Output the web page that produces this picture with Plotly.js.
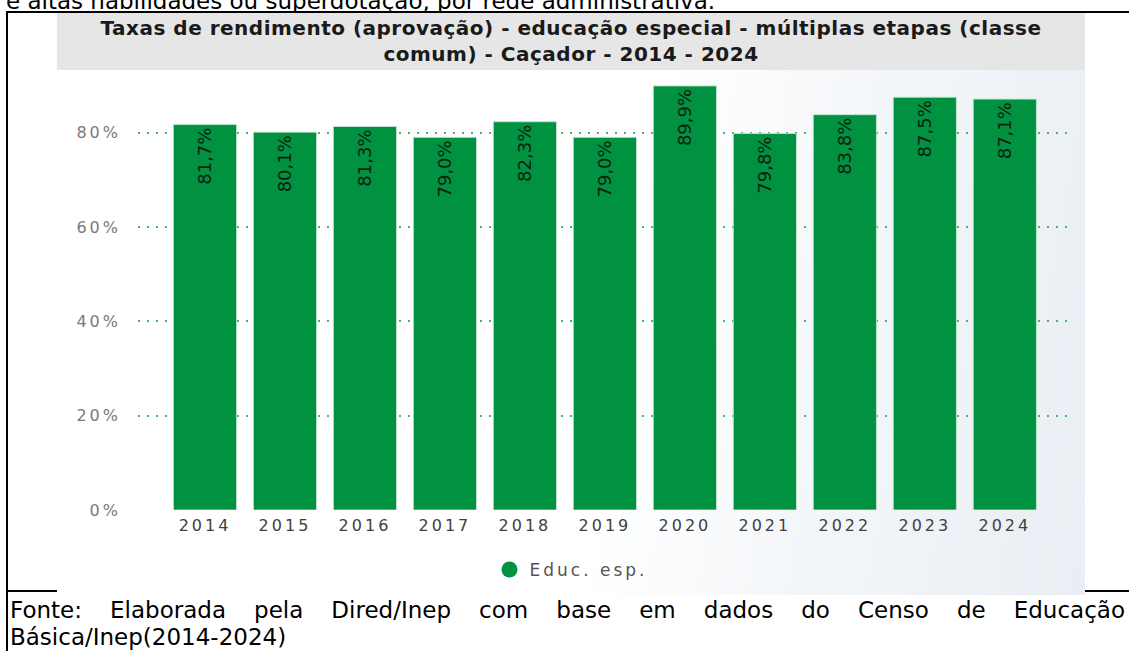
<!DOCTYPE html>
<html>
<head>
<meta charset="utf-8">
<script src="https://cdn.plot.ly/plotly-3.0.1.min.js"></script>
<style>
  html, body { margin: 0; padding: 0; background: #ffffff; width: 1129px; height: 651px; overflow: hidden; position: relative; font-family: "DejaVu Sans", sans-serif; }
  .doc { position: absolute; color: #000; font-size: 23px; line-height: 26px; white-space: nowrap; }
  .line-h { position: absolute; background: #000; height: 2px; }
  .line-v { position: absolute; background: #000; width: 2px; }
  #frame { position: absolute; left: 57px; top: 13px; width: 1028px; height: 582px;
           background: linear-gradient(100deg, #ffffff 0%, #ffffff 55%, #f3f6f9 75%, #e9eef4 100%); }
  #band { position: absolute; left: 0; top: 0; width: 1028px; height: 57px; background: #e6e6e6; }
  #chart { position: absolute; left: 0; top: 0; width: 1028px; height: 582px; }
  .xtick text, .ytick text { letter-spacing: 3px; }
  .legendtext { letter-spacing: 3px; }
  .gtitle { letter-spacing: 0.5px; }
</style>
</head>
<body>
<div class="doc" style="left:6px; top:-12px;">e altas habilidades ou superdotação, por rede administrativa.</div>
<div class="line-h" style="left:6px; top:11px; width:1123px;"></div>
<div class="line-v" style="left:6px; top:11px; height:640px;"></div>
<div class="line-h" style="left:6px; top:590px; width:1123px;"></div>
<div id="frame">
  <div id="band"></div>
  <div id="chart"></div>
</div>
<div class="doc" style="left:10px; top:597px; width:1115px; text-align:justify; text-align-last:justify; white-space:normal;">Fonte: Elaborada pela Dired/Inep com base em dados do Censo de Educação</div>
<div class="doc" style="left:10px; top:624px;">Básica/Inep(2014-2024)</div>
<script>
const chartTitle = 'Taxas de rendimento (aprovação) - educação especial - múltiplas etapas (classe<br>comum) - Caçador - 2014 - 2024';
const years = ['2014', '2015', '2016', '2017', '2018', '2019', '2020', '2021', '2022', '2023', '2024'];
const values = [81.7, 80.1, 81.3, 79.0, 82.3, 79.0, 89.9, 79.8, 83.8, 87.5, 87.1];
const seriesName = 'Educ. esp.';
const yTickValues = [0, 20, 40, 60, 80];
const yTickLabels = ['0%', '20%', '40%', '60%', '80%'];

const green = '#009240';

const bars = {
  type: 'bar',
  x: years,
  y: values,
  name: seriesName,
  showlegend: false,
  marker: { color: green, line: { color: 'rgba(190,230,205,0.9)', width: 1 } },
  texttemplate: '%{y:.1f}%',
  textposition: 'inside',
  insidetextanchor: 'end',
  textangle: -90,
  textfont: { family: '"DejaVu Sans", sans-serif', size: 18, color: '#0c1f11' },
  hoverinfo: 'skip'
};

const legendProxy = {
  type: 'scatter',
  mode: 'markers',
  x: [null],
  y: [null],
  name: seriesName,
  marker: { color: green, size: 16, symbol: 'circle' },
  showlegend: true,
  hoverinfo: 'skip'
};

const layout = {
  width: 1028,
  height: 582,
  paper_bgcolor: 'rgba(0,0,0,0)',
  plot_bgcolor: 'rgba(0,0,0,0)',
  separators: ',.',
  margin: { l: 81, r: 13, t: 63, b: 85 },
  bargap: 0.21,
  font: { family: '"DejaVu Sans", sans-serif' },
  title: {
    text: chartTitle,
    font: { family: '"DejaVu Sans", sans-serif', size: 20, color: '#1a1a1a', weight: 'bold' },
    x: 0.5, xref: 'container', xanchor: 'center',
    y: 0.963, yref: 'container', yanchor: 'middle'
  },
  xaxis: {
    type: 'category',
    range: [-0.8375, 10.84],
    showgrid: false,
    zeroline: false,
    showline: false,
    ticks: '',
    ticklabelstandoff: 4,
    tickfont: { family: '"DejaVu Sans", sans-serif', size: 16, color: '#404040' },
    fixedrange: true
  },
  yaxis: {
    range: [0, 92],
    tickmode: 'array',
    tickvals: yTickValues,
    ticktext: yTickLabels,
    showgrid: true,
    gridcolor: '#4cb07a',
    gridwidth: 2,
    griddash: '2px,7px',
    zeroline: false,
    showline: false,
    ticks: '',
    ticklabelstandoff: 16,
    tickfont: { family: '"DejaVu Sans", sans-serif', size: 16, color: '#7a7a7a' },
    fixedrange: true
  },
  showlegend: true,
  legend: {
    orientation: 'h',
    x: 0.5, xref: 'container', xanchor: 'center',
    y: 0.043, yref: 'container', yanchor: 'middle',
    font: { family: '"DejaVu Sans", sans-serif', size: 17, color: '#555555' },
    bgcolor: 'rgba(0,0,0,0)'
  }
};

Plotly.newPlot('chart', [bars, legendProxy], layout, { displayModeBar: false, staticPlot: true });
</script>
</body>
</html>
